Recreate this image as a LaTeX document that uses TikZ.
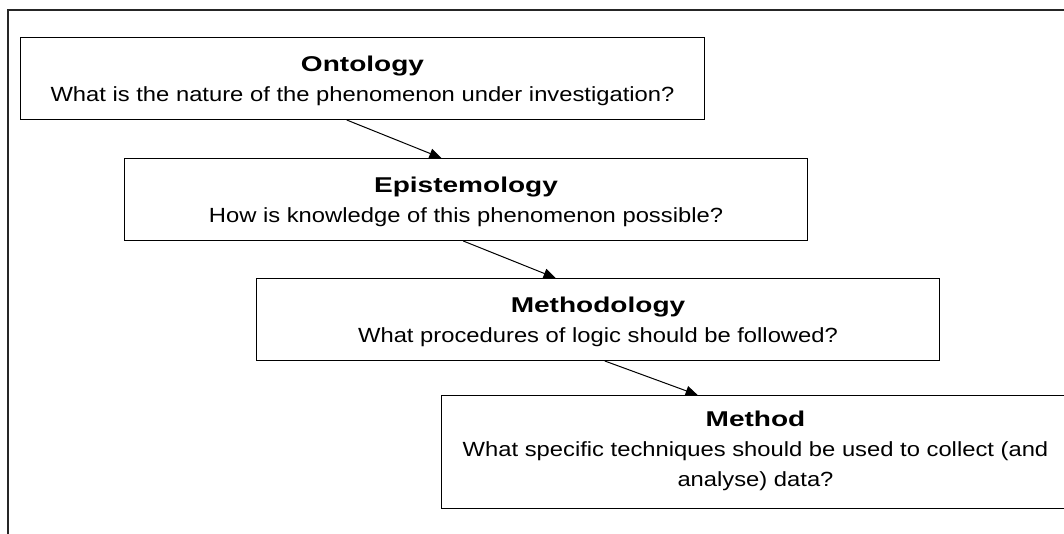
\documentclass[tikz,border=0pt]{standalone}
\usepackage{fontspec}
\setmainfont{Liberation Sans}
\newfontfamily\bodyfont{Liberation Sans}[FakeStretch=1.16]
\newfontfamily\titlefont{Liberation Sans}[FakeStretch=1.31]
\usetikzlibrary{arrows.meta,calc}

\tikzset{
  level/.style={draw=black, line width=1pt, fill=white, inner sep=0pt,
    align=center, anchor=north west,
    font=\bodyfont\fontsize{20.5}{30}\selectfont},
  flow/.style={draw=black, line width=1pt,
    -{Triangle[length=12pt,width=10pt]}},
  frame/.style={draw=black!85, line width=1.2pt}
}
\newcommand{\leveltitle}[1]{{\titlefont\bfseries\fontsize{21.4}{30}\selectfont #1}\\}

\begin{document}
\begin{tikzpicture}[x=1pt,y=-1pt]
  \useasboundingbox (0,0) rectangle (1064,533);
  \fill[white] (0,0) rectangle (1064,533);

  % outer frame, open to the right and bottom
  \draw[frame] (8,540) -- (8,10) -- (1070,10);

  % text height = distance from box top to the baseline of the last line
  \node[level, minimum width=684pt, text height=64pt, text depth=18pt] (ont) at (20,37)
    {\leveltitle{Ontology}What is the nature of the phenomenon under investigation?};
  \node[level, minimum width=683pt, text height=63.5pt, text depth=18.5pt] (epi) at (124,158)
    {\leveltitle{Epistemology}How is knowledge of this phenomenon possible?};
  \node[level, minimum width=683pt, text height=64pt, text depth=18pt] (mgy) at (256,278)
    {\leveltitle{Methodology}What procedures of logic should be followed?};
  \node[level, minimum width=628pt, text height=91pt, text depth=22pt] (mtd) at (441,395)
    {\leveltitle{Method}What specific techniques should be used to collect (and\\analyse) data?};

  \draw[flow] ($(ont.south west)!0.477!(ont.south east)$) -- ($(epi.north west)!0.464!(epi.north east)$);
  \draw[flow] ($(epi.south west)!0.496!(epi.south east)$) -- ($(mgy.north west)!0.438!(mgy.north east)$);
  \draw[flow] ($(mgy.south west)!0.510!(mgy.south east)$) -- ($(mtd.north west)!0.408!(mtd.north east)$);
\end{tikzpicture}
\end{document}
